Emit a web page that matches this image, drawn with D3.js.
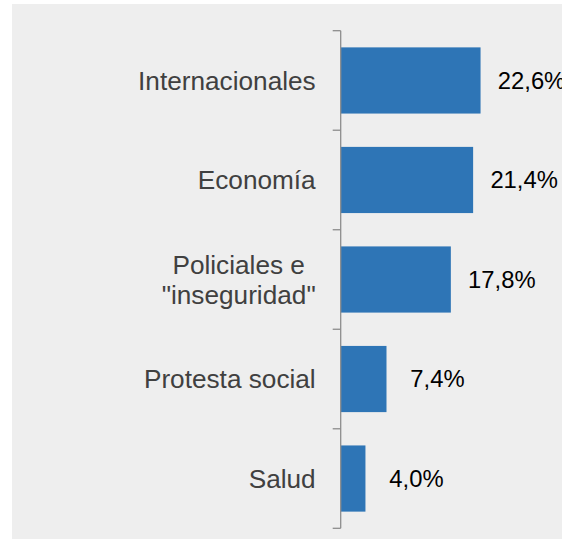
<!DOCTYPE html>
<html>
<head>
<meta charset="utf-8">
<script src="https://cdnjs.cloudflare.com/ajax/libs/d3/7.8.5/d3.min.js"></script>
<style>
  body { margin: 0; background: #fff; }
  svg { display: block; font-family: "Liberation Sans", Arial, sans-serif; }
</style>
</head>
<body>
<div id="chart"></div>
<script>
// categories top to bottom, with line breaks as in the source
var categories = ["Internacionales", "Economía", "Policiales e\n\"inseguridad\"", "Protesta social", "Salud"];
var values = [22.6, 21.4, 17.8, 7.4, 4.0];
var valueLabels = ["22,6%", "21,4%", "17,8%", "7,4%", "4,0%"];

var width = 562, height = 539;
var axisX = 340.7;

var svg = d3.select("#chart").append("svg")
  .attr("width", width)
  .attr("height", height);

// chart area background
svg.append("rect")
  .attr("x", 12).attr("y", 4)
  .attr("width", width - 12).attr("height", height - 4)
  .attr("fill", "#eeeeee");

var x = d3.scaleLinear().domain([0, 25]).range([axisX, axisX + 154.7]);
var y = d3.scaleBand()
  .domain(categories)
  .range([30.7, 528.3])
  .paddingInner(0.335)
  .paddingOuter(0.1675);

//bars
svg.selectAll(".bar")
  .data(values)
  .enter().append("rect")
    .attr("class", "bar")
    .attr("x", x(0))
    .attr("y", function(d, i) { return y(categories[i]); })
    .attr("width", function(d) { return x(d) - x(0); })
    .attr("height", y.bandwidth())
    .attr("fill", "#2e75b6");

//axis line with ticks between categories
var step = y.step();
var r0 = y.range()[0];
var g = svg.append("g").attr("stroke", "#8c8c8c").attr("stroke-width", 1.3);
g.append("line")
  .attr("x1", axisX).attr("x2", axisX)
  .attr("y1", y.range()[0]).attr("y2", y.range()[1]);
g.selectAll(".tick")
  .data(d3.range(categories.length + 1))
  .enter().append("line")
    .attr("x1", axisX - 8).attr("x2", axisX)
    .attr("y1", function(i) { return r0 + i * step; })
    .attr("y2", function(i) { return r0 + i * step; });

//value labels (the first one runs off the right edge, as in the source)
svg.selectAll(".value-label")
  .data(values)
  .enter().append("text")
    .attr("class", "value-label")
    .attr("x", function(d) { return x(d) + 51; })
    .attr("y", function(d, i) { return y(categories[i]) + y.bandwidth() / 2; })
    .attr("dy", "0.35em")
    .attr("text-anchor", "middle")
    .attr("font-size", "23.8px")
    .attr("fill", "#000")
    .text(function(d, i) { return valueLabels[i]; });

//category labels, multi-line ones centered inside a right-aligned block
var labelRight = axisX - 25;
var lineH = 30;
categories.forEach(function(c) {
  var lines = c.split("\n");
  var cy = y(c) + y.bandwidth() / 2;
  var t = svg.append("text")
    .attr("font-size", "26.2px")
    .attr("fill", "#404040");
  var spans = lines.map(function(l, i) {
    return t.append("tspan")
      .attr("y", cy + (i - (lines.length - 1) / 2) * lineH)
      .attr("dy", "0.35em")
      .text(l);
  });
  var maxW = d3.max(spans, function(s) { return s.node().getComputedTextLength(); });
  spans.forEach(function(s) {
    if (lines.length > 1) {
      s.attr("x", labelRight - maxW / 2).attr("text-anchor", "middle");
    } else {
      s.attr("x", labelRight).attr("text-anchor", "end");
    }
  });
});
</script>
</body>
</html>
